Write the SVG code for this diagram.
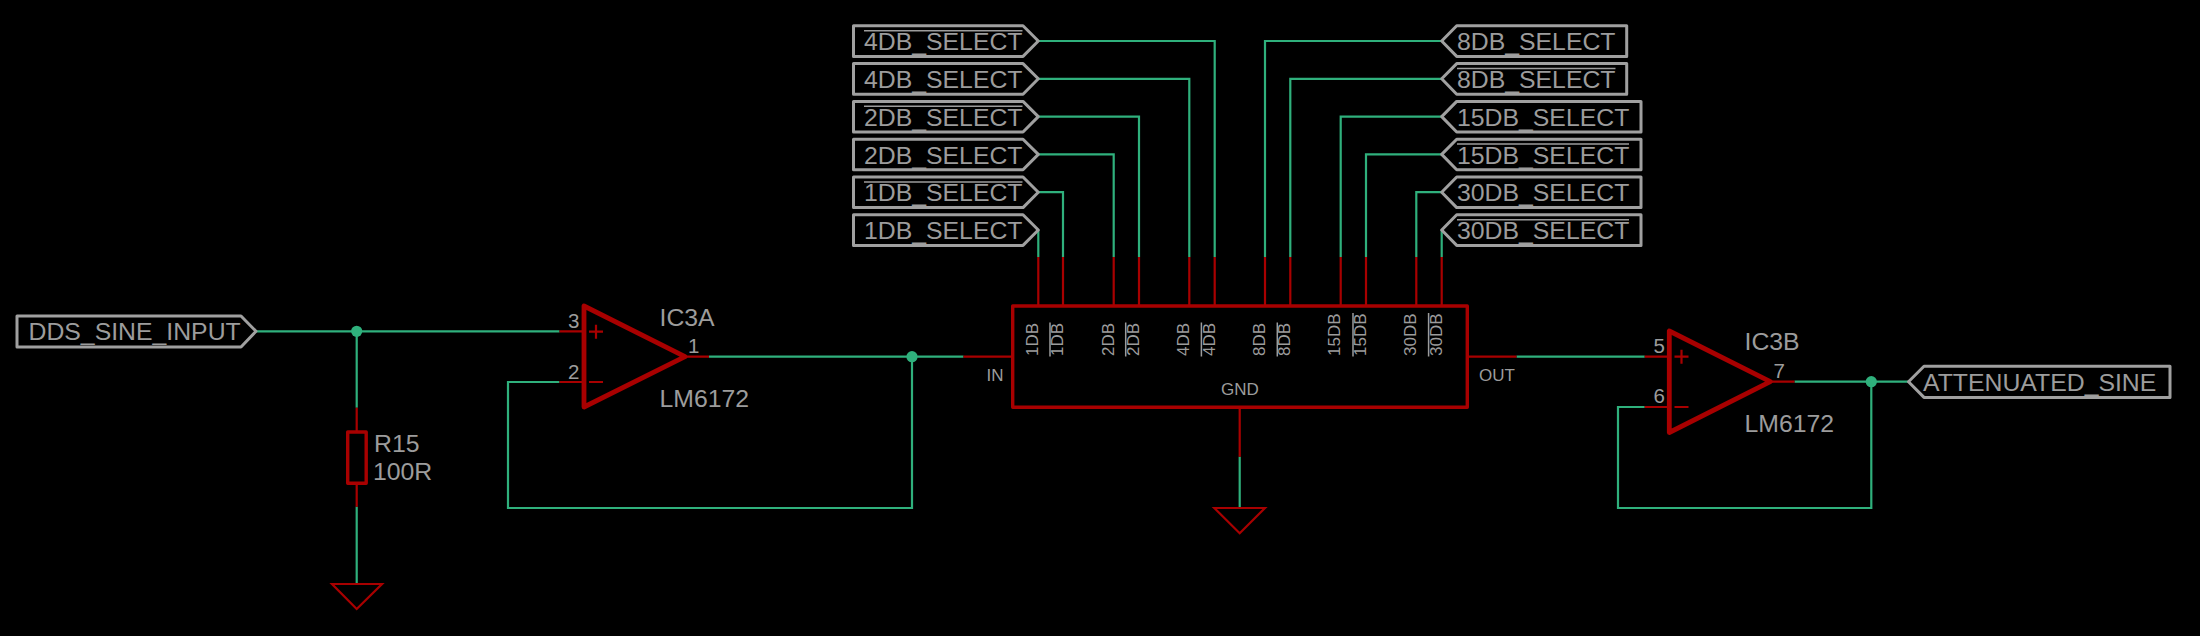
<svg xmlns="http://www.w3.org/2000/svg" width="2200" height="636" viewBox="0 0 2200 636">
<style>
text{font-family:"Liberation Sans",Arial,sans-serif;fill:#9c9c9c;font-size:24.8px}
.pn{font-size:20.5px}.sm{font-size:17px}
.w{fill:none;stroke:#2fb07c;stroke-width:2.2}
.j{fill:#2fb07c}
.r{fill:none;stroke:#a80000;stroke-width:2.2}
.b{fill:none;stroke:#a80000;stroke-width:3.4;stroke-linejoin:round}
.op{fill:none;stroke:#a80000;stroke-width:4.8;stroke-linejoin:round}
.t{fill:none;stroke:#a80000;stroke-width:2.2;stroke-linejoin:miter}
.l{fill:none;stroke:#a0a0a0;stroke-width:3;stroke-linejoin:round}
.o{fill:none;stroke:#9c9c9c;stroke-width:1.5}
</style>
<rect width="2200" height="636" fill="#000"/>
<g id="connectors">
<path class="w" d="M1038.3 41H1214.7V257"/>
<path class="w" d="M1038.3 78.8H1189.3V257"/>
<path class="w" d="M1038.3 116.6H1139V257"/>
<path class="w" d="M1038.3 154.4H1113.7V257"/>
<path class="w" d="M1038.3 192.2H1063V257"/>
<path class="w" d="M1038.3 230V257"/>
<path class="w" d="M1441.7 41H1265V257"/>
<path class="w" d="M1441.7 78.8H1290.3V257"/>
<path class="w" d="M1441.7 116.6H1340.7V257"/>
<path class="w" d="M1441.7 154.4H1366V257"/>
<path class="w" d="M1441.7 192.2H1416.3V257"/>
<path class="w" d="M1441.7 230V257"/>
<path class="w" d="M256 331.3H559.5"/>
<path class="w" d="M356.7 331.3V407.7"/>
<path class="w" d="M356.7 506.7V584"/>
<path class="w" d="M709 356.7H963.5"/>
<path class="w" d="M912 356.7V508H508V382H559.5"/>
<path class="w" d="M1239.7 456.7V508"/>
<path class="w" d="M1516.5 356.7H1644.7"/>
<path class="w" d="M1794.5 381.7H1908.5"/>
<path class="w" d="M1871.3 381.7V508H1618V407H1644.7"/>
<circle class="j" cx="356.7" cy="331.3" r="5.6"/>
<circle class="j" cx="912" cy="356.7" r="5.6"/>
<circle class="j" cx="1871.3" cy="381.7" r="5.6"/>
</g>
<g id="label-4db-a"><path class="l" d="M853.5 25.8H1023L1038.3 41L1023 56.4H853.5Z"/><text x="864" y="50">4DB_SELECT</text><path class="o" d="M864 30.7H1022.5"/></g>
<g id="label-4db-b"><path class="l" d="M853.5 63.6H1023L1038.3 78.8L1023 94.2H853.5Z"/><text x="864" y="87.8">4DB_SELECT</text></g>
<g id="label-2db-a"><path class="l" d="M853.5 101.4H1023L1038.3 116.6L1023 132H853.5Z"/><text x="864" y="125.6">2DB_SELECT</text><path class="o" d="M864 106.3H1022.5"/></g>
<g id="label-2db-b"><path class="l" d="M853.5 139.2H1023L1038.3 154.4L1023 169.8H853.5Z"/><text x="864" y="163.6">2DB_SELECT</text></g>
<g id="label-1db-a"><path class="l" d="M853.5 177H1023L1038.3 192.2L1023 207.6H853.5Z"/><text x="864" y="201.2">1DB_SELECT</text><path class="o" d="M864 181.9H1022.5"/></g>
<g id="label-1db-b"><path class="l" d="M853.5 214.8H1023L1038.3 230L1023 245.4H853.5Z"/><text x="864" y="239">1DB_SELECT</text></g>
<g id="label-8db-a"><path class="l" d="M1626.7 25.8H1456.7L1441.7 41L1456.7 56.4H1626.7Z"/><text x="1457" y="50">8DB_SELECT</text></g>
<g id="label-8db-b"><path class="l" d="M1626.7 63.6H1456.7L1441.7 78.8L1456.7 94.2H1626.7Z"/><text x="1457" y="87.8">8DB_SELECT</text><path class="o" d="M1457 68.5H1615.5"/></g>
<g id="label-15db-a"><path class="l" d="M1641 101.4H1456.7L1441.7 116.6L1456.7 132H1641Z"/><text x="1457" y="125.6">15DB_SELECT</text></g>
<g id="label-15db-b"><path class="l" d="M1641 139.2H1456.7L1441.7 154.4L1456.7 169.8H1641Z"/><text x="1457" y="163.6">15DB_SELECT</text><path class="o" d="M1457 144.1H1629"/></g>
<g id="label-30db-a"><path class="l" d="M1641 177H1456.7L1441.7 192.2L1456.7 207.6H1641Z"/><text x="1457" y="201.2">30DB_SELECT</text></g>
<g id="label-30db-b"><path class="l" d="M1641 214.8H1456.7L1441.7 230L1456.7 245.4H1641Z"/><text x="1457" y="239">30DB_SELECT</text><path class="o" d="M1457 219.7H1629"/></g>
<g id="label-dds"><path class="l" d="M17 316H241L256 331.3L241 347H17Z"/><text x="28.5" y="340.3">DDS_SINE_INPUT</text></g>
<g id="label-attenuated"><path class="l" d="M2170 366.3H1924L1908.5 381.7L1924 397.4H2170Z"/><text x="1923" y="390.5">ATTENUATED_SINE</text></g>
<g id="R15">
<path class="r" d="M356.7 407.7V432M356.7 483.3V506.7"/>
<rect class="b" x="347.7" y="432" width="18.5" height="51.3"/>
<text x="374" y="452">R15</text><text x="373" y="480">100R</text>
</g>
<g id="GND1"><path class="t" d="M332 584H382L356.7 609Z"/></g>
<g id="GND2"><path class="t" d="M1214.3 508H1265L1239.7 533.3Z"/></g>
<g id="IC3A">
<path class="r" d="M559.5 331.3H584M559.5 382H584M685 356.7H709"/>
<path class="r" d="M589 331.7H603M596 324.7V338.7M589 382H603"/>
<path class="op" d="M584 306V407L685 356.7Z"/>
<text class="pn" x="568" y="327.7">3</text><text class="pn" x="568" y="378.7">2</text><text class="pn" x="688" y="353.3">1</text>
<text x="659.5" y="325.7">IC3A</text><text x="659.5" y="407.3">LM6172</text>
</g>
<g id="IC3B">
<path class="r" d="M1644.7 356.7H1669.3M1644.7 407H1669.3M1770.3 381.7H1794.5"/>
<path class="r" d="M1674.5 356.7H1688.5M1681.5 349.7V363.7M1674.5 407H1688.5"/>
<path class="op" d="M1669.3 331V432.5L1770.3 381.7Z"/>
<text class="pn" x="1653.5" y="353.3">5</text><text class="pn" x="1653.5" y="403.3">6</text><text class="pn" x="1773.5" y="378.3">7</text>
<text x="1744.5" y="350">IC3B</text><text x="1744.5" y="432.3">LM6172</text>
</g>
<g id="attenuator">
<rect class="b" x="1012.7" y="306" width="454.6" height="101.3"/>
<path class="r" d="M1038.3 257V306M1063 257V306M1113.7 257V306M1139 257V306M1189.3 257V306M1214.7 257V306M1265 257V306M1290.3 257V306M1340.7 257V306M1366 257V306M1416.3 257V306M1441.7 257V306"/>
<path class="r" d="M963.5 356.7H1012.7M1467.3 356.7H1516.5M1239.7 407.3V456.7"/>
<text class="sm" x="986.5" y="381">IN</text><text class="sm" x="1479" y="381">OUT</text><text class="sm" x="1240" y="394.5" text-anchor="middle">GND</text>
<text class="sm" transform="translate(1038.3 356) rotate(-90)">1DB</text>
<text class="sm" transform="translate(1063 356) rotate(-90)">1DB</text>
<text class="sm" transform="translate(1113.7 356) rotate(-90)">2DB</text>
<text class="sm" transform="translate(1139 356) rotate(-90)">2DB</text>
<text class="sm" transform="translate(1189.3 356) rotate(-90)">4DB</text>
<text class="sm" transform="translate(1214.7 356) rotate(-90)">4DB</text>
<text class="sm" transform="translate(1265 356) rotate(-90)">8DB</text>
<text class="sm" transform="translate(1290.3 356) rotate(-90)">8DB</text>
<text class="sm" transform="translate(1340 356) rotate(-90)">15DB</text>
<text class="sm" transform="translate(1365.5 356) rotate(-90)">15DB</text>
<text class="sm" transform="translate(1416.3 356) rotate(-90)">30DB</text>
<text class="sm" transform="translate(1441.7 356) rotate(-90)">30DB</text>
<path class="o" d="M1050 356.5V322.5M1125.7 356.5V322.5M1201.4 356.5V322.5M1277.3 356.5V322.5M1353 356.5V313M1428.6 356.5V313"/>
</g>
</svg>
